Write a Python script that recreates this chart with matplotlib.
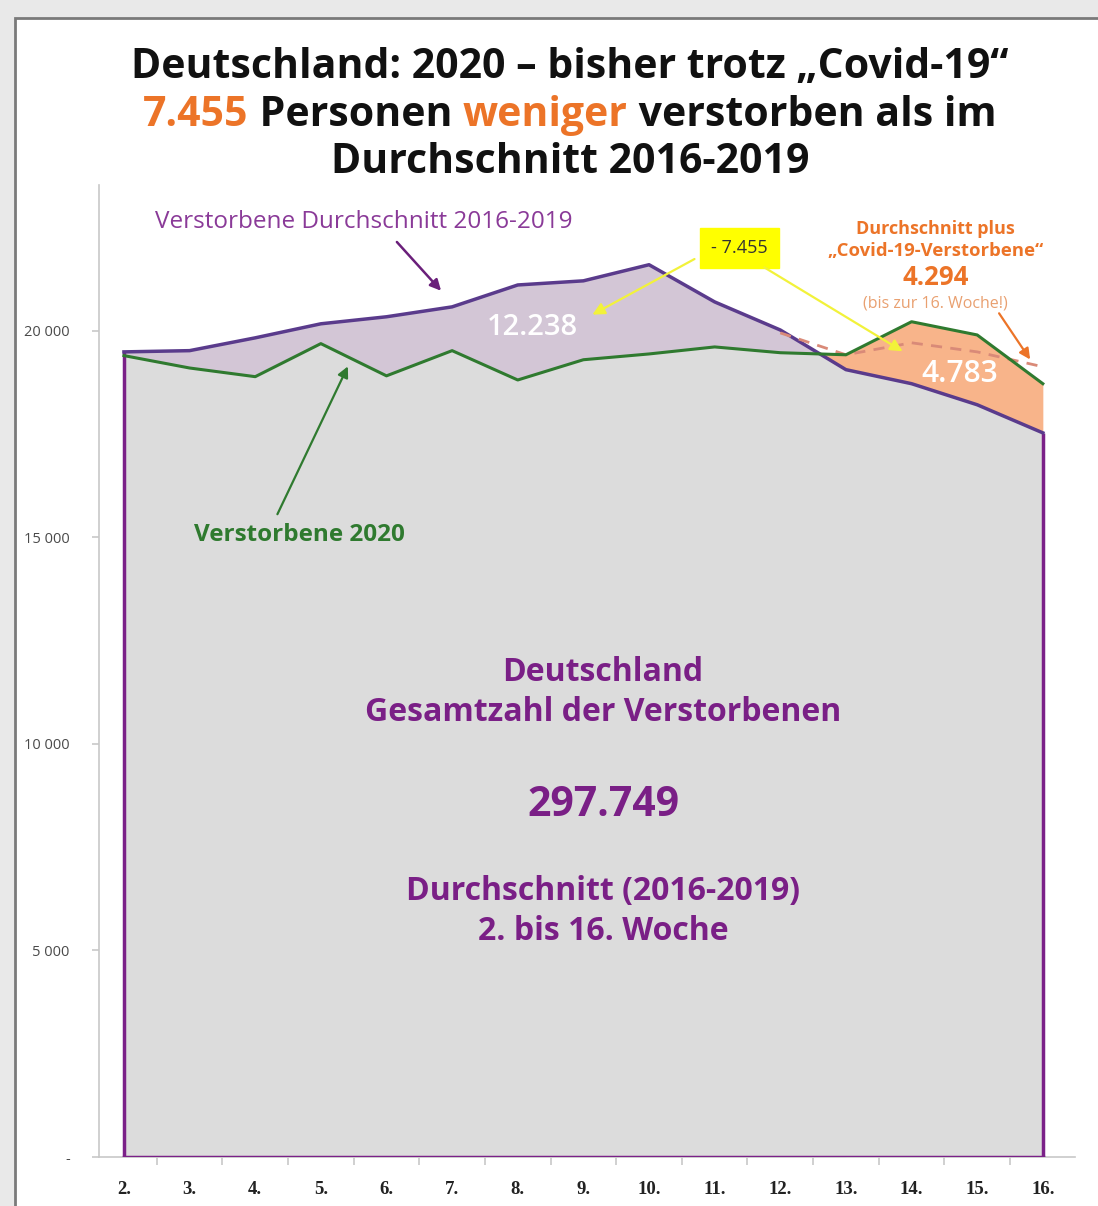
import matplotlib
matplotlib.use('Agg')
import matplotlib.pyplot as plt
from matplotlib.patches import Rectangle
from matplotlib.offsetbox import TextArea, HPacker, AnchoredOffsetbox
import numpy as np

plt.rcParams['font.family'] = ['Open Sans', 'DejaVu Sans']

# data (weeks 2..16)
weeks = [2, 3, 4, 5, 6, 7, 8, 9, 10, 11, 12, 13, 14, 15, 16]
week_labels = ['2.', '3.', '4.', '5.', '6.', '7.', '8.', '9.', '10.', '11.', '12.', '13.', '14.', '15.', '16.']
avg_2016_2019 = [19490, 19520, 19830, 20170, 20340, 20580, 21110, 21210, 21600,
                 20700, 20020, 19060, 18720, 18210, 17530]
deaths_2020 = [19400, 19100, 18890, 19690, 18910, 19520, 18810, 19300, 19440,
               19610, 19470, 19420, 20220, 19900, 18720]
plus_weeks = [12, 13, 14, 15, 16]
avg_plus_covid = [19950, 19420, 19710, 19490, 19130]

yticks = [0, 5000, 10000, 15000, 20000]
ytick_labels = ['-', '5 000', '10 000', '15 000', '20 000']

GRAY = '#dcdcdc'
LAVENDER = '#d3c6d6'
PEACH = '#f8b48a'
AVG_LINE = '#5a3b8c'
OUTLINE = '#7b2188'
GREEN = '#2f7a2f'
ORANGE = '#ec7428'
DASH = '#d98a78'
CENTER = '#7a1f86'

fig = plt.figure(figsize=(10.98, 12.06), dpi=100, facecolor='#e9e9e9')
# white card like the screenshot
card = Rectangle((15 / 1098, -0.1), 1.2, (1206 - 18) / 1206 + 0.1,
                 transform=fig.transFigure, fc='white', ec='#7a7a7a', lw=2, zorder=-10)
fig.patches.append(card)

ax = fig.add_axes([99 / 1098, 49 / 1206, (1075 - 99) / 1098, (1157 - 185) / 1206])
ax.set_facecolor('none')
ax.set_zorder(2)

x = np.array(weeks, dtype=float)
avg = np.array(avg_2016_2019, dtype=float)
d20 = np.array(deaths_2020, dtype=float)

# fills
ax.fill_between(x, 0, avg, color=GRAY, lw=0, zorder=1)
ax.fill_between(x, avg, d20, where=d20 <= avg, interpolate=True, color=LAVENDER, lw=0, zorder=2)
ax.fill_between(x, avg, d20, where=d20 >= avg, interpolate=True, color=PEACH, lw=0, zorder=2)
ax.fill_between(x, 0, d20, where=d20 <= avg, interpolate=True, color=GRAY, lw=0, zorder=2)

# purple outline of the area
ax.plot([x[0], x[0]], [0, avg[0]], color=OUTLINE, lw=2.5, zorder=4, solid_capstyle='butt')
ax.plot([x[-1], x[-1]], [0, avg[-1]], color=OUTLINE, lw=2.5, zorder=4, solid_capstyle='butt')
ax.plot([x[0], x[-1]], [0, 0], color=OUTLINE, lw=2.5, zorder=4)

# lines
ax.plot(x, avg, color=AVG_LINE, lw=2.5, zorder=5)
ax.plot(x, d20, color=GREEN, lw=2.2, zorder=6)
ax.plot(plus_weeks, avg_plus_covid, color=DASH, lw=2, ls=(0, (4, 3)), zorder=5)

# axes styling
ax.set_xlim(1.62, 16.49)
ax.set_ylim(0, 23530)
for s in ['top', 'right']:
    ax.spines[s].set_visible(False)
ax.spines['left'].set_color('#c8c8c8')
ax.spines['bottom'].set_color('#c8c8c8')
ax.spines['left'].set_linewidth(1.2)
ax.spines['bottom'].set_linewidth(1.2)

ax.set_xticks(weeks)
ax.set_xticklabels(week_labels, fontfamily='Liberation Serif', fontweight='bold',
                   fontsize=13.5, color='#222222')
ax.tick_params(axis='x', which='major', length=0, pad=17)
ax.set_xticks([w + 0.5 for w in weeks[:-1]], minor=True)
ax.tick_params(axis='x', which='minor', length=6, color='#c8c8c8', width=1.2)
ax.set_yticks(yticks)
ax.set_yticklabels(ytick_labels, fontsize=10.5, color='#4a4a4a')
ax.tick_params(axis='y', length=5, color='#c8c8c8', width=1.2, pad=16)

# title
TS = 29.5
fig.text(0.519, 0.944, 'Deutschland: 2020 – bisher trotz „Covid-19“', ha='center', va='center',
         fontsize=TS, fontweight='bold', color='#111111')
parts = [('7.455', ORANGE), (' Personen ', '#111111'), ('weniger', ORANGE),
         (' verstorben als im', '#111111')]
boxes = [TextArea(t, textprops=dict(color=c, fontsize=TS, fontweight='bold')) for t, c in parts]
pack = HPacker(children=boxes, pad=0, sep=0, align='baseline')
anch = AnchoredOffsetbox(loc='center', child=pack, frameon=False,
                         bbox_to_anchor=(0.519, 0.904), bbox_transform=fig.transFigure, pad=0, borderpad=0)
fig.add_artist(anch)
fig.text(0.519, 0.865, 'Durchschnitt 2016-2019', ha='center', va='center',
         fontsize=TS, fontweight='bold', color='#111111')

# annotations
ax.text(5.66, 22640, 'Verstorbene Durchschnitt 2016-2019', ha='center', va='center',
        fontsize=17.5, color='#8a3a98')
ax.annotate('', xy=(6.86, 20920), xytext=(6.13, 22200),
            arrowprops=dict(arrowstyle='-|>', color='#6a1f7a', lw=1.8, mutation_scale=16))
ax.text(8.22, 20070, '12.238', ha='center', va='center', fontsize=21, color='white',
        fontweight='semibold', zorder=7)

ax.text(11.38, 22010, '- 7.455', ha='center', va='center', fontsize=13, color='#333333', zorder=8,
        bbox=dict(boxstyle='square,pad=0.6', fc='#ffff00', ec='#ffff00'))
ax.annotate('', xy=(9.10, 20360), xytext=(10.73, 21770),
            arrowprops=dict(arrowstyle='-|>', color='#f2f23a', lw=1.6, mutation_scale=18), zorder=8)
ax.annotate('', xy=(13.90, 19470), xytext=(11.72, 21570),
            arrowprops=dict(arrowstyle='-|>', color='#f2f23a', lw=1.6, mutation_scale=18), zorder=8)

ax.text(14.36, 22470, 'Durchschnitt plus', ha='center', va='center', fontsize=13,
        fontweight='bold', color=ORANGE)
ax.text(14.36, 21930, '„Covid-19-Verstorbene“', ha='center', va='center', fontsize=13.3,
        fontweight='bold', color=ORANGE)
ax.text(14.36, 21300, '4.294', ha='center', va='center', fontsize=18.5,
        fontweight='bold', color=ORANGE)
ax.text(14.36, 20650, '(bis zur 16. Woche!)', ha='center', va='center', fontsize=11.5,
        color='#e9a070')
ax.annotate('', xy=(15.83, 19250), xytext=(15.31, 20480),
            arrowprops=dict(arrowstyle='-|>', color=ORANGE, lw=1.6, mutation_scale=16), zorder=8)
ax.text(14.74, 18960, '4.783', ha='center', va='center', fontsize=21.5, color='white',
        fontweight='semibold', zorder=7)

ax.text(4.67, 15060, 'Verstorbene 2020', ha='center', va='center', fontsize=17.5,
        fontweight='bold', color=GREEN)
ax.annotate('', xy=(5.43, 19200), xytext=(4.32, 15500),
            arrowprops=dict(arrowstyle='-|>', color=GREEN, lw=1.6, mutation_scale=16), zorder=8)

CS = 23
ax.text(9.30, 11720, 'Deutschland', ha='center', va='center', fontsize=CS, fontweight='bold', color=CENTER)
ax.text(9.30, 10750, 'Gesamtzahl der Verstorbenen', ha='center', va='center', fontsize=CS,
        fontweight='bold', color=CENTER)
ax.text(9.30, 8500, '297.749', ha='center', va='center', fontsize=29.5, fontweight='bold', color=CENTER)
ax.text(9.30, 6420, 'Durchschnitt (2016-2019)', ha='center', va='center', fontsize=CS,
        fontweight='bold', color=CENTER)
ax.text(9.30, 5450, '2. bis 16. Woche', ha='center', va='center', fontsize=CS,
        fontweight='bold', color=CENTER)

fig.savefig('out.png', dpi=100, facecolor=fig.get_facecolor())
